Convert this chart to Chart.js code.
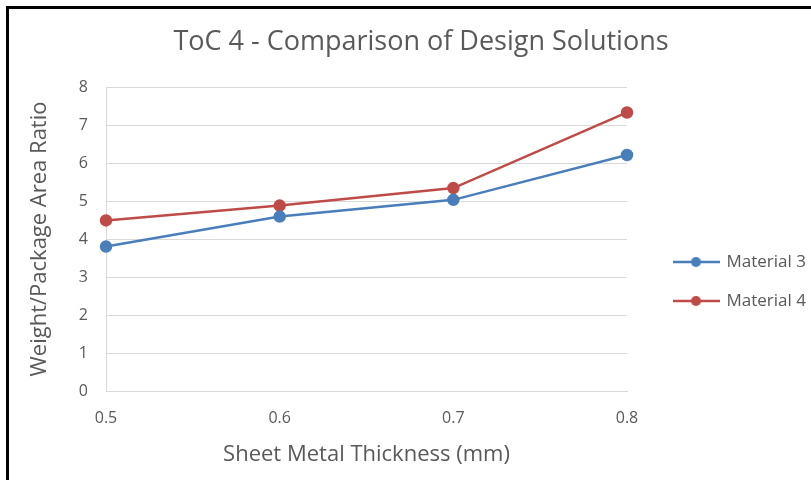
<!DOCTYPE html>
<html>
<head>
<meta charset="utf-8">
<script src="https://cdn.jsdelivr.net/npm/chart.js@4/dist/chart.umd.min.js"></script>
<style>
  html, body { margin: 0; padding: 0; background: #fff; overflow: hidden; }
  #frame {
    position: absolute; left: 6px; top: 6px;
    width: 860px; height: 471px;
    border-left: 3px solid #000; border-top: 3px solid #000;
    background: #fff;
  }
</style>
</head>
<body>
<div id="frame"><canvas id="tocChart" width="860" height="471"></canvas></div>
<script>
const thickness = ['0.5', '0.6', '0.7', '0.8'];
const material3 = [3.80, 4.59, 5.03, 6.21];
const material4 = [4.49, 4.88, 5.34, 7.33];
const seriesNames = ['Material 3', 'Material 4'];

const textGray = '#595959';
const fontFam = "'Open Sans', 'Segoe UI', sans-serif";

// legend marker: short line with a dot in the middle
function lineMarker(color) {
    const c = document.createElement('canvas');
    c.width = 47; c.height = 12;
    const g = c.getContext('2d');
    g.strokeStyle = color; g.lineWidth = 2.5;
    g.beginPath(); g.moveTo(0, 6); g.lineTo(47, 6); g.stroke();
    g.fillStyle = color;
    g.beginPath(); g.arc(23.5, 6, 5, 0, Math.PI * 2); g.fill();
    return c;
}

// move legend items and the title to where Excel put them (legend text unclipped)
const layoutNudge = {
    id: 'layoutNudge',
    afterLayout(chart) {
        const lg = chart.legend;
        lg.left += 25; lg.right += 200;
        lg.top += 37; lg.bottom += 37;
        const tb = chart.titleBlock;
        tb.left += 29; tb.right += 29;
    }
};

const ctx = document.getElementById('tocChart').getContext('2d');
const tocChart = new Chart(ctx, {
    type: 'line',
    data: {
        labels: thickness,
        datasets: [{
            label: seriesNames[0],
            data: material3,
            borderColor: '#4a7ebb',
            backgroundColor: '#4a7ebb',
            borderWidth: 2.5,
            pointRadius: 5,
            pointHoverRadius: 5,
            tension: 0
        }, {
            label: seriesNames[1],
            data: material4,
            borderColor: '#be4b48',
            backgroundColor: '#be4b48',
            borderWidth: 2.5,
            pointRadius: 5,
            pointHoverRadius: 5,
            tension: 0
        }]
    },
    options: {
        responsive: false,
        animation: false,
        layout: { padding: { left: 8, right: 102, top: 0, bottom: 0 } },
        plugins: {
            title: {
                display: true,
                text: 'ToC 4 - Comparison of Design Solutions',
                color: textGray,
                font: { family: fontFam, size: 27, weight: 'normal' },
                padding: { top: 16.8, bottom: 28.8 }
            },
            legend: {
                position: 'right',
                maxWidth: 140,
                labels: {
                    color: textGray,
                    font: { family: fontFam, size: 17 },
                    padding: 22,
                    usePointStyle: true,
                    pointStyleWidth: 44,
                    generateLabels(chart) {
                        return chart.data.datasets.map((ds, i) => ({
                            text: ds.label,
                            fillStyle: ds.borderColor,
                            strokeStyle: ds.borderColor,
                            fontColor: textGray,
                            pointStyle: lineMarker(ds.borderColor),
                            lineWidth: 0,
                            datasetIndex: i
                        }));
                    }
                }
            },
            tooltip: { enabled: false }
        },
        scales: {
            x: {
                offset: false,
                grid: { display: false, drawTicks: false },
                border: { display: true, color: '#d9d9d9', width: 1 },
                ticks: { color: textGray, font: { family: fontFam, size: 16 }, padding: 17.4 },
                title: {
                    display: true,
                    text: 'Sheet Metal Thickness (mm)',
                    color: textGray,
                    font: { family: fontFam, size: 22 },
                    padding: { top: 0, bottom: 11.8 }
                },
                afterFit(scale) { scale.height = 89; }
            },
            y: {
                min: 0,
                max: 8,
                grid: { color: '#d9d9d9', lineWidth: 1, drawTicks: false },
                border: { display: true, color: '#d9d9d9', width: 1 },
                ticks: { stepSize: 1, color: textGray, font: { family: fontFam, size: 16 }, padding: 18 },
                title: {
                    display: true,
                    text: 'Weight/Package Area Ratio',
                    color: textGray,
                    font: { family: fontFam, size: 22 },
                    padding: { top: 9.8, bottom: 0 }
                },
                afterFit(scale) { scale.width = 89; }
            }
        }
    },
    plugins: [layoutNudge]
});
</script>
</body>
</html>
